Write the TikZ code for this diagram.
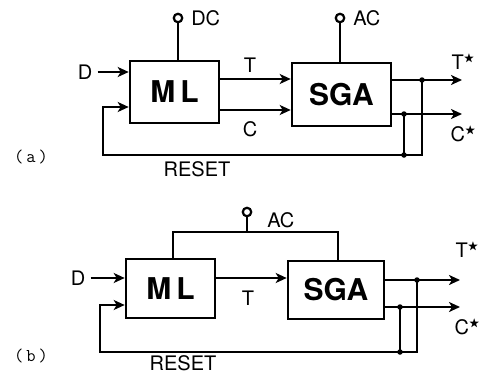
\documentclass[tikz,border=0pt]{standalone}
\usepackage{amssymb}
\usepackage{fontspec}
\setmainfont{TeX Gyre Heros}
\usetikzlibrary{arrows.meta}
\newcommand{\stx}{\raisebox{8pt}{\fontsize{11}{11}\selectfont$\bigstar$}}
\begin{document}
\begin{tikzpicture}[x=1pt,y=-1pt,line width=2.6pt,
  blockbox/.style={draw,rectangle,inner sep=0pt,font=\bfseries\fontsize{30}{30}\selectfont},
  lbl/.style={inner sep=0pt,font=\fontsize{20}{20}\selectfont},
  panel/.style={inner sep=0pt,font=\ttfamily\fontsize{18}{18}\selectfont},
  arr/.style={-{Stealth[length=11pt,width=10pt,inset=3pt]}},
  term/.style={draw,circle,fill=white,minimum size=8.5pt,inner sep=0pt,line width=2.2pt},
  dot/.style={circle,fill=black,minimum size=5.5pt,inner sep=0pt}]
\useasboundingbox (0,0) rectangle (479,375);

% ---------------- panel (a)
\node[blockbox,minimum width=89pt,minimum height=62pt] (mlA) at (174.5,92) {M\,L};
\node[blockbox,minimum width=99pt,minimum height=63pt] (sgaA) at (341.5,94.5) {SGA};
\node[term] (dcT) at (178,18) {};
\node[lbl,anchor=west] (dcL) at (190,18) {DC};
\node[term] (acT) at (340,18) {};
\node[lbl,anchor=west] (acL) at (352,18) {AC};
\draw (dcT) -- (dcT |- mlA.north);
\draw (acT) -- (acT |- sgaA.north);
\node[lbl] (dA) at (85,72) {D};
\draw[arr] (dA.east) ++(4pt,0) -- (mlA.west |- dA);
\coordinate (tinA) at (0,79);
\coordinate (cinA) at (0,110);
\draw[arr] (mlA.east |- tinA) -- (sgaA.west |- tinA);
\draw[arr] (mlA.east |- cinA) -- (sgaA.west |- cinA);
\node[lbl] (tA) at (250,65) {T};
\node[lbl] (cA) at (250,129) {C};
\coordinate (tjA) at (422,80);
\coordinate (cjA) at (404,114);
\coordinate (rbA) at (404,155);
\coordinate (fbA) at (103,155);
\coordinate (fiA) at (103,107);
\coordinate (toA) at (462,80);
\coordinate (coA) at (462,114);
\draw[arr] (sgaA.east |- tjA) -- (toA);
\draw[arr] (sgaA.east |- cjA) -- (coA);
\draw[arr] (tjA) -- (tjA |- rbA) -- (fbA) -- (fiA) -- (mlA.west |- fiA);
\draw (cjA) -- (rbA);
\node[dot] at (tjA) {};
\node[dot] at (cjA) {};
\node[dot] at (rbA) {};
\node[lbl] (tsA) at (463,62) {T\stx};
\node[lbl] (csA) at (463,134) {C\stx};
\node[lbl] (rsA) at (197,169) {RESET};
\node[panel] (pa) at (31,157) {(\,a\,)};

% ---------------- panel (b)
\node[blockbox,minimum width=89pt,minimum height=59pt] (mlB) at (170.5,288.5) {M\,L};
\node[blockbox,minimum width=96pt,minimum height=58pt] (sgaB) at (336,290) {SGA};
\node[term] (acTB) at (247,212) {};
\node[lbl,anchor=west] (acLB) at (266,220) {AC};
\coordinate (barB) at (247,232);
\coordinate (blB) at (173,232);
\coordinate (brB) at (338,232);
\draw (acTB) -- (barB);
\draw (blB |- mlB.north) -- (blB) -- (brB) -- (brB |- sgaB.north);
\node[lbl] (dB) at (78,278) {D};
\draw[arr] (dB.east) ++(4pt,0) -- (mlB.west |- dB);
\coordinate (tinB) at (0,278);
\draw[arr] (mlB.east |- tinB) -- (sgaB.west |- tinB);
\node[lbl] (tB) at (248,298) {T};
\coordinate (tjB) at (417,280);
\coordinate (cjB) at (400,307);
\coordinate (rbB) at (400,352);
\coordinate (fbB) at (100,352);
\coordinate (fiB) at (100,305);
\coordinate (toB) at (460,280);
\coordinate (coB) at (460,307);
\draw[arr] (sgaB.east |- tjB) -- (toB);
\draw[arr] (sgaB.east |- cjB) -- (coB);
\draw[arr] (tjB) -- (tjB |- rbB) -- (fbB) -- (fiB) -- (mlB.west |- fiB);
\draw (cjB) -- (rbB);
\node[dot] at (tjB) {};
\node[dot] at (cjB) {};
\node[dot] at (rbB) {};
\node[lbl] (tsB) at (467,250) {T\stx};
\node[lbl] (csB) at (467,327) {C\stx};
\node[lbl,anchor=south] (rsB) at (183,372) {RESET};
\node[panel] (pb) at (31,356) {(\,b\,)};
\end{tikzpicture}
\end{document}
